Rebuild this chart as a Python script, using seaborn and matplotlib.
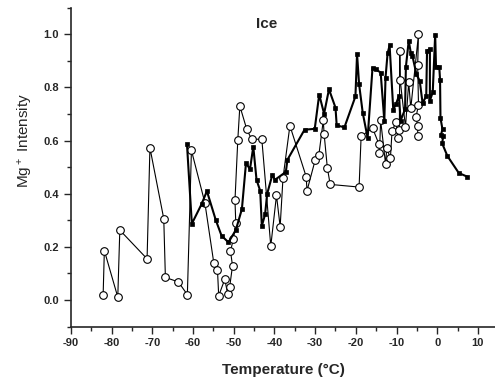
import numpy as np
import pandas as pd
import matplotlib
matplotlib.use("Agg")
import matplotlib.pyplot as plt
from matplotlib.ticker import MultipleLocator
import seaborn as sns

# open circles (thin line)
circ_t = [-82.1, -81.8, -78.5, -78.0, -71.3, -70.6, -67.2, -66.8, -63.6, -61.4,
          -60.4, -57.1, -54.9, -54.0, -53.7, -52.2, -51.5, -51.0, -50.3, -50.8,
          -50.1, -49.5, -49.7, -49.0, -48.5, -46.8, -45.6, -43.1, -40.9, -39.5,
          -38.6, -37.9, -36.2, -32.2, -32.0, -30.0, -29.1, -28.0, -27.8, -27.0,
          -26.3, -19.2, -18.7, -15.9, -14.3, -14.2, -13.9, -12.7, -12.4, -11.5,
          -11.1, -10.1, -9.7, -9.3, -9.2, -9.1, -7.8, -7.0, -6.5, -4.6,
          -4.8, -4.6, -5.2, -4.8, -4.8]
circ_i = [0.018, 0.186, 0.011, 0.263, 0.155, 0.573, 0.306, 0.085, 0.068, 0.020,
          0.563, 0.366, 0.139, 0.113, 0.016, 0.078, 0.023, 0.050, 0.129, 0.183,
          0.230, 0.289, 0.375, 0.604, 0.730, 0.642, 0.605, 0.605, 0.203, 0.394,
          0.276, 0.459, 0.656, 0.464, 0.411, 0.526, 0.544, 0.676, 0.626, 0.497,
          0.435, 0.425, 0.616, 0.647, 0.586, 0.552, 0.676, 0.512, 0.571, 0.534,
          0.636, 0.671, 0.610, 0.640, 0.937, 0.828, 0.651, 0.819, 0.721, 1.000,
          0.883, 0.734, 0.689, 0.655, 0.616]

# filled squares (thick line)
sq_t = [-61.5, -60.3, -57.9, -56.6, -54.4, -53.0, -51.3, -49.5, -48.0, -47.0,
        -46.0, -45.2, -44.4, -43.5, -43.1, -42.3, -41.8, -40.5, -39.9, -37.2,
        -36.8, -32.6, -30.1, -29.0, -27.8, -26.6, -25.0, -24.7, -22.8, -20.1,
        -19.7, -19.2, -18.3, -17.1, -15.9, -15.1, -13.9, -13.0, -12.7, -12.2,
        -11.7, -10.8, -10.1, -9.4, -9.0, -7.9, -7.7, -7.0, -6.5, -6.1,
        -5.1, -4.3, -3.6, -2.7, -2.5, -1.8, -1.8, -1.1, -0.5, -0.3,
        0.5, 0.7, 0.8, 1.3, 0.9, 1.5, 1.2, 2.5, 5.3, 7.4]
sq_i = [0.587, 0.287, 0.361, 0.410, 0.300, 0.242, 0.217, 0.263, 0.342, 0.514,
        0.493, 0.577, 0.452, 0.411, 0.279, 0.322, 0.399, 0.472, 0.452, 0.482,
        0.528, 0.641, 0.644, 0.773, 0.701, 0.793, 0.724, 0.657, 0.650, 0.766,
        0.926, 0.812, 0.704, 0.610, 0.874, 0.868, 0.856, 0.675, 0.837, 0.928,
        0.958, 0.716, 0.739, 0.768, 0.675, 0.718, 0.877, 0.976, 0.931, 0.919,
        0.849, 0.825, 0.741, 0.767, 0.938, 0.945, 0.750, 0.782, 0.999, 0.878,
        0.878, 0.828, 0.685, 0.642, 0.621, 0.617, 0.590, 0.542, 0.478, 0.464]

x_ticks = [-90, -80, -70, -60, -50, -40, -30, -20, -10, 0, 10]
y_ticks = [0.0, 0.2, 0.4, 0.6, 0.8, 1.0]

sns.set_style("ticks")
plt.rcParams['font.family'] = ['Liberation Sans', 'DejaVu Sans']
plt.rcParams['mathtext.default'] = 'regular'
plt.rcParams['axes.unicode_minus'] = False

fig = plt.figure(figsize=(4.95, 3.79), dpi=100)
ax = fig.add_axes([0.1434, 0.1383, 0.8566, 0.8414])

circ = pd.DataFrame({"t": circ_t, "i": circ_i})
sq = pd.DataFrame({"t": sq_t, "i": sq_i})

sns.lineplot(data=circ, x="t", y="i", sort=False, estimator=None, ax=ax,
             color="black", linewidth=0.8, marker="o", markersize=5.5,
             markerfacecolor="white", markeredgecolor="black",
             markeredgewidth=0.8, zorder=2)
sns.lineplot(data=sq, x="t", y="i", sort=False, estimator=None, ax=ax,
             color="black", linewidth=1.5, marker="s", markersize=3.5,
             markerfacecolor="black", markeredgecolor="black",
             markeredgewidth=0.5, zorder=3)

ax.set_xlim(-90, 14.2)
ax.set_ylim(-0.1, 1.1)
ax.set_xticks(x_ticks, labels=[str(v) for v in x_ticks], fontweight="bold")
ax.set_yticks(y_ticks, labels=[f"{v:.1f}" for v in y_ticks], fontweight="bold")
ax.xaxis.set_minor_locator(MultipleLocator(5))
ax.yaxis.set_minor_locator(MultipleLocator(0.1))
ax.tick_params(which="major", direction="out", length=5, width=1, labelsize=8)
ax.tick_params(which="minor", direction="out", length=3, width=1)

sns.despine(ax=ax)
for s in ["left", "bottom"]:
    ax.spines[s].set_linewidth(1.2)

ax.set_xlabel("Temperature (°C)", fontsize=11, fontweight="bold")
ax.xaxis.set_label_coords(0.5, -0.115)
ax.set_ylabel("Mg$^+$ Intensity", fontsize=11)
ax.yaxis.set_label_coords(-0.085, 0.585)
ax.text(0.4616, 0.949, "Ice", transform=ax.transAxes, ha="center", va="center",
        fontsize=11, fontweight="bold")

fig.savefig("out.png", dpi=100)
